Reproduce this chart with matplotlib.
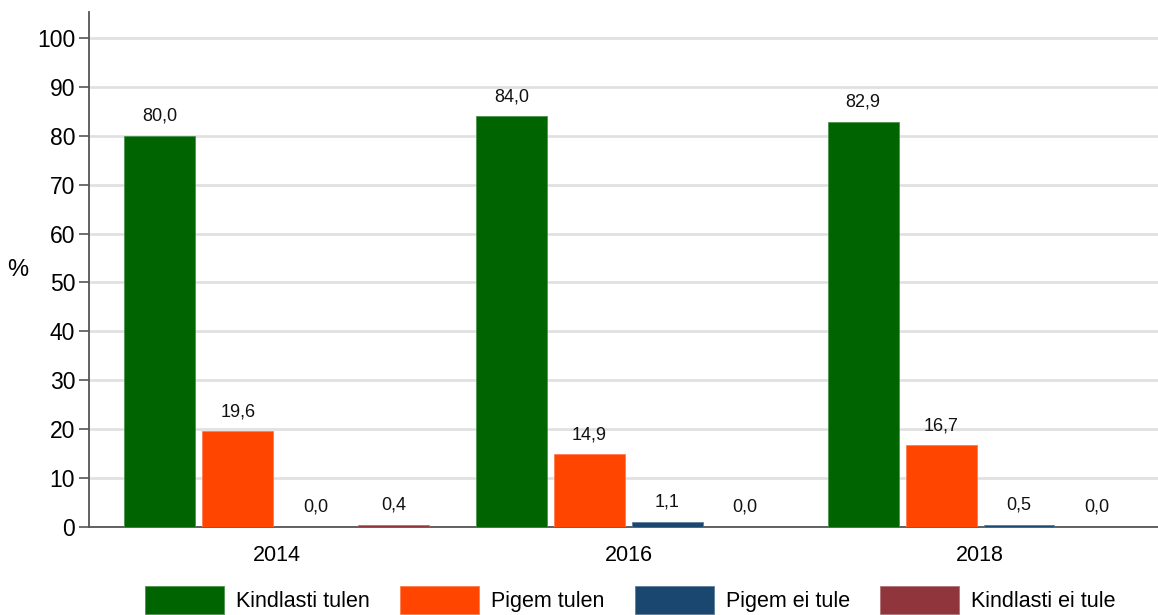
import matplotlib
matplotlib.use("Agg")
import matplotlib.pyplot as plt
import numpy as np

years = ["2014", "2016", "2018"]
series_names = ["Kindlasti tulen", "Pigem tulen", "Pigem ei tule", "Kindlasti ei tule"]
kindlasti_tulen = [80.0, 84.0, 82.9]
pigem_tulen = [19.6, 14.9, 16.7]
pigem_ei_tule = [0.0, 1.1, 0.5]
kindlasti_ei_tule = [0.4, 0.0, 0.0]
colors = ["#006400", "#ff4500", "#1a476f", "#90353b"]
edge_colors = ["#4d934d", "#ff7d4d", "#5f7e9a", "#b27276"]
yticks = list(range(0, 101, 10))

plt.rcParams["font.family"] = ["Liberation Sans", "DejaVu Sans"]

fig = plt.figure(figsize=(11.58, 6.15), dpi=100)
ax = fig.add_axes([89 / 1158, 1 - 527 / 615, (1158 - 89) / 1158, (527 - 12) / 615])

x = np.arange(len(years))
step = 0.2216
width = 0.2017
all_series = [kindlasti_tulen, pigem_tulen, pigem_ei_tule, kindlasti_ei_tule]
for i, (vals, col, ec, name) in enumerate(zip(all_series, colors, edge_colors, series_names)):
    pos = x + (i - 1.5) * step
    ax.bar(pos, vals, width, color=col, label=name, zorder=3,
           edgecolor=ec, linewidth=0.6)
    for p, v in zip(pos, vals):
        ax.annotate(f"{v:.1f}".replace(".", ","), (p, v), xytext=(0, 8),
                    textcoords="offset points", ha="center", va="bottom",
                    fontsize=13, color="#111111")

ax.set_xlim(-0.534, 2.506)
ax.set_ylim(0, 105.3)
ax.set_yticks(yticks)
ax.set_yticklabels([str(t) for t in yticks], fontsize=16.5)
ax.set_xticks(x)
ax.set_xticklabels(years, fontsize=15.5)
ax.tick_params(axis="x", length=0, pad=13)
ax.tick_params(axis="y", length=7, width=1.2, color="#555555", pad=3)
ax.grid(axis="y", color="#e1e1e1", linewidth=2, zorder=0)
for s in ["top", "right"]:
    ax.spines[s].set_visible(False)
ax.spines["left"].set_color("#555555")
ax.spines["left"].set_linewidth(1.3)
ax.spines["bottom"].set_color("#555555")
ax.spines["bottom"].set_linewidth(1.3)
ax.spines["bottom"].set_zorder(2.5)

fig.text(18 / 1158, 1 - 270 / 615, "%", fontsize=17, ha="center", va="center")

handles, labels = ax.get_legend_handles_labels()
fig.legend(handles, labels, loc="upper left", bbox_to_anchor=(145 / 1158, 1 - 586 / 615),
           ncol=4, frameon=False, fontsize=15.5, handlelength=3.67, handleheight=1.6,
           handletextpad=0.56, columnspacing=1.4, borderaxespad=0, borderpad=0)

fig.savefig("out.png", dpi=100)
